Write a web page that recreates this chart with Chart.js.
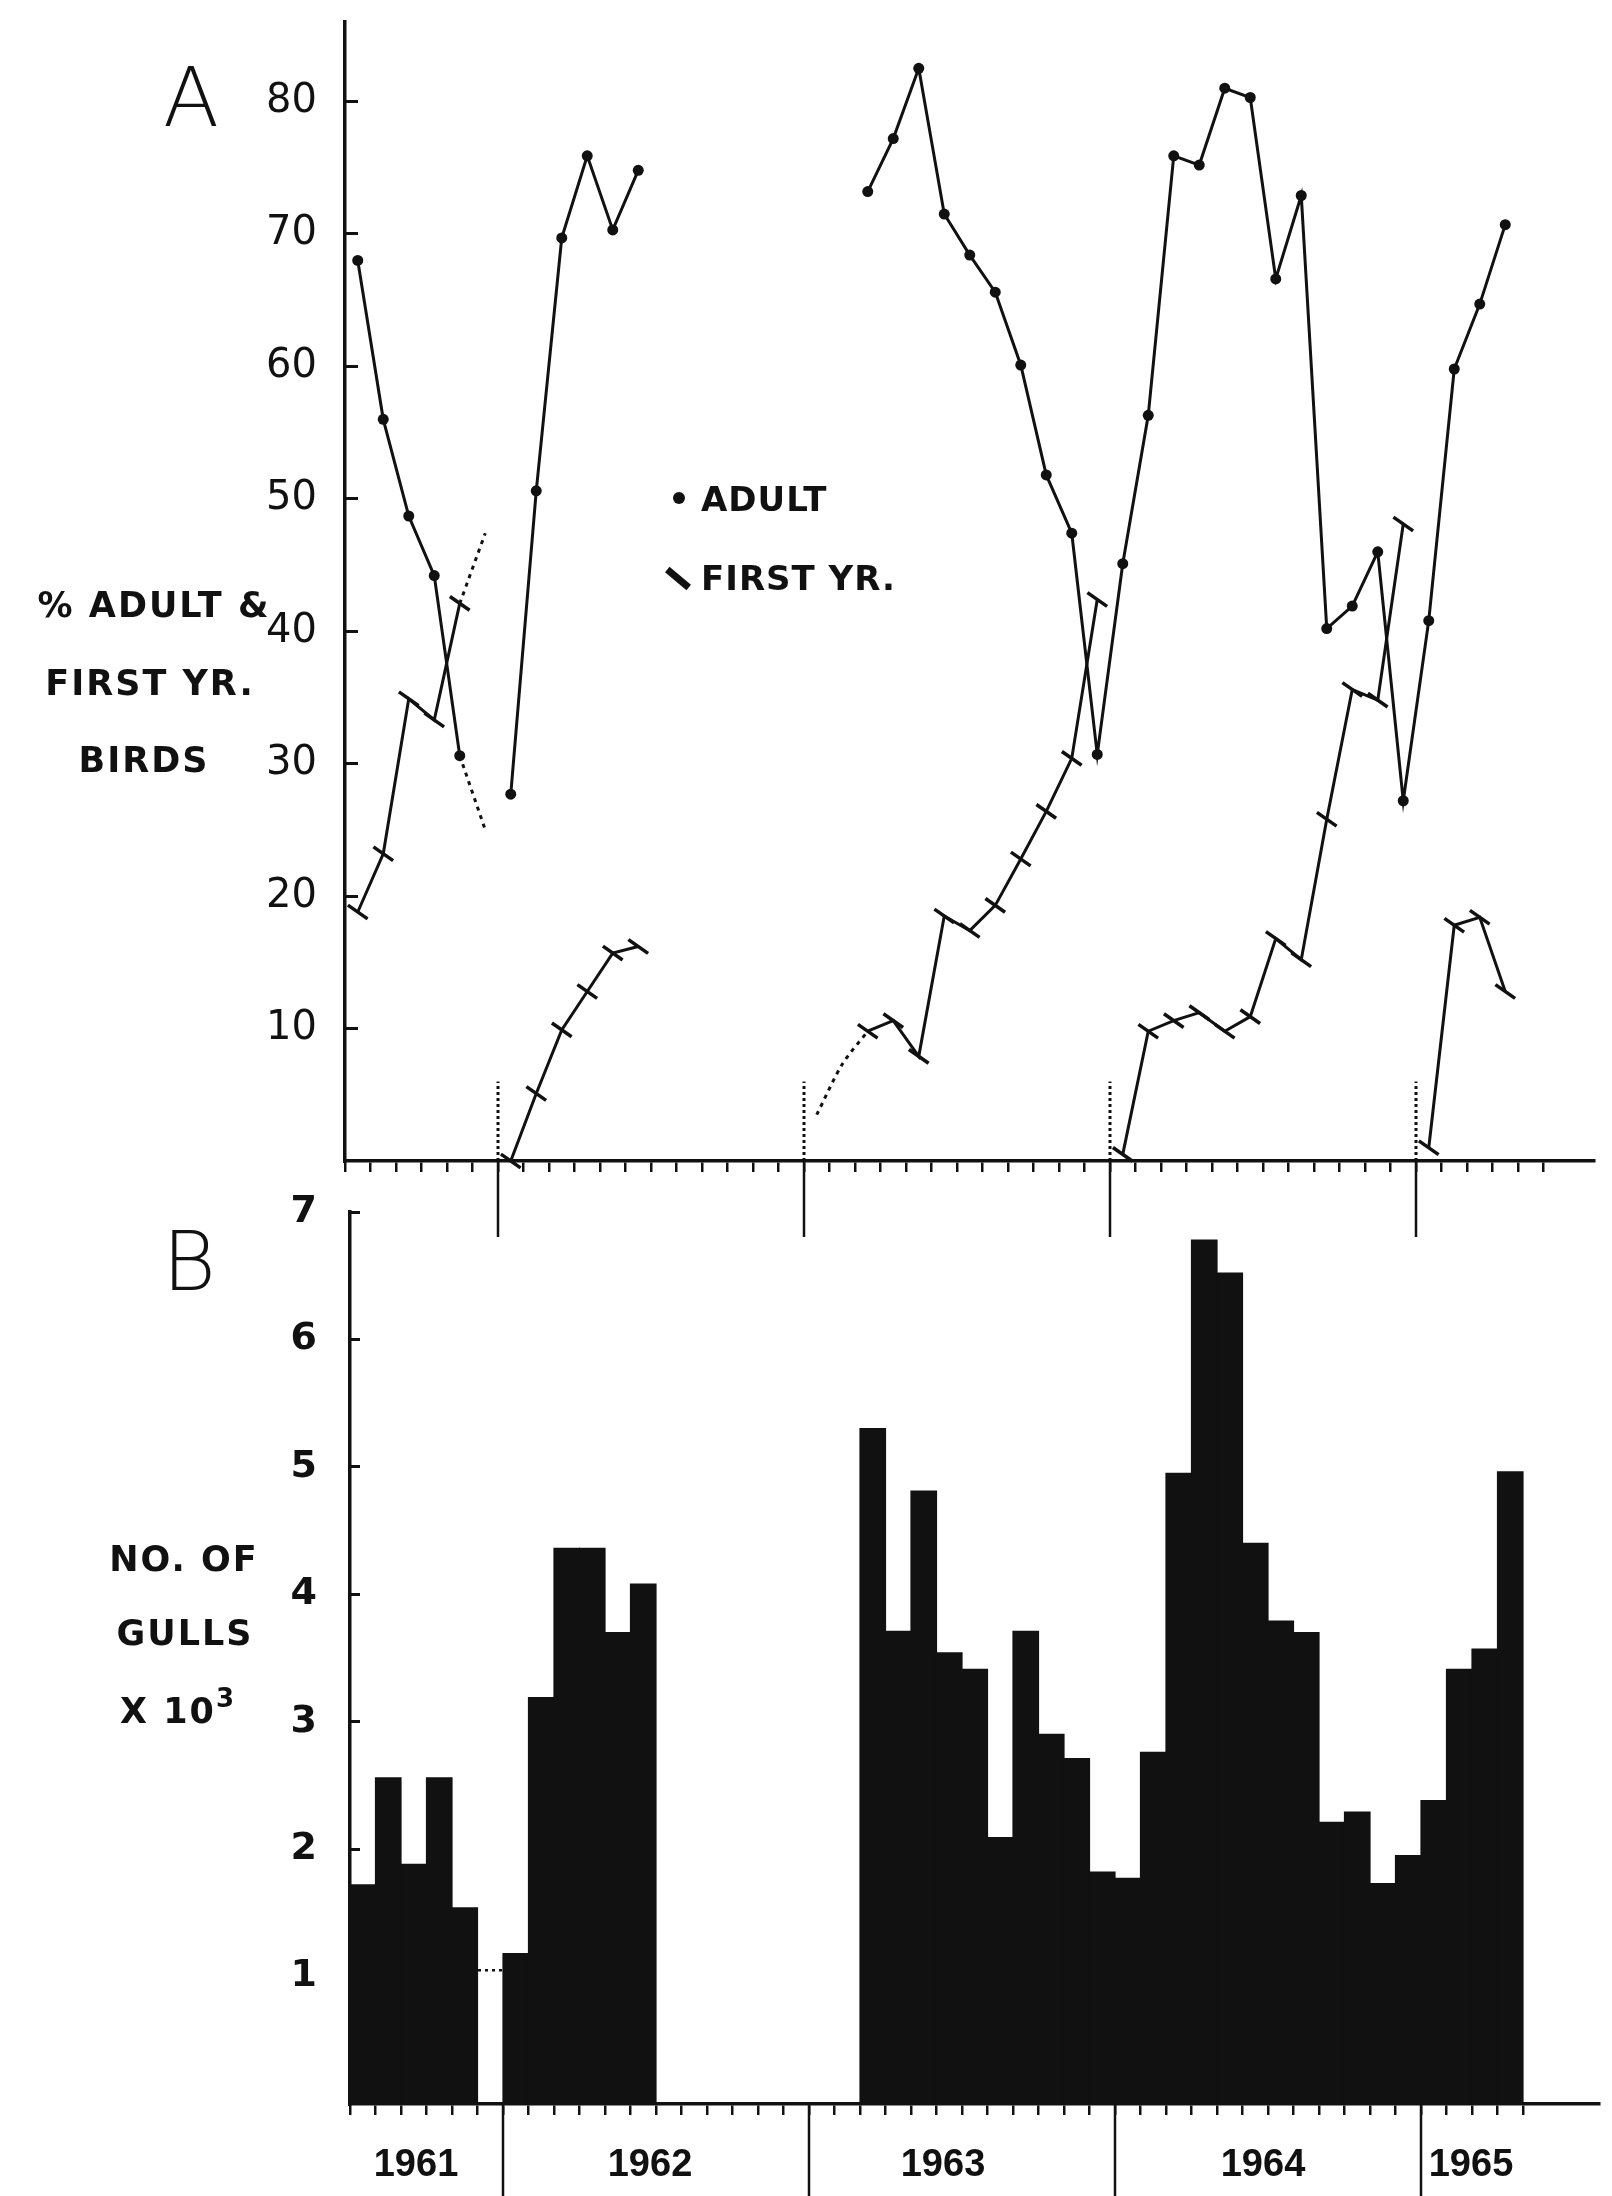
<!DOCTYPE html>
<html>
<head>
<meta charset="utf-8">
<script src="https://cdn.jsdelivr.net/npm/chart.js@4.4.1/dist/chart.umd.min.js"></script>
<style>
  html, body { margin: 0; padding: 0; background: #fff; }
  body { position: relative; width: 1612px; height: 2196px; overflow: hidden;
         font-family: "DejaVu Sans", sans-serif; color: #111; }
  canvas { position: absolute; left: 0; }
  #chartA { top: 0; }
  #chartB { top: 1160px; }
  .lbl { position: absolute; white-space: nowrap; transform: translate(-50%, -50%); line-height: 1; }
  .panel { font-size: 82px; font-weight: 200; }
  .title { font-size: 35px; font-weight: bold; letter-spacing: 2px; }
  .year { font-family: "Liberation Sans", sans-serif; font-weight: bold; font-size: 38px; }
  .leg { font-size: 34px; font-weight: bold; letter-spacing: 1px; transform: translate(0, -50%); }
  .mark { position: absolute; background: #111; }
</style>
</head>
<body>
<canvas id="chartA" width="1612" height="1250"></canvas>
<canvas id="chartB" width="1612" height="1036"></canvas>

<div class="lbl panel" style="left:191px;top:98px">A</div>
<div class="lbl panel" style="left:189px;top:1262px">B</div>

<div class="lbl title" style="left:154px;top:605px">% ADULT &amp;</div>
<div class="lbl title" style="left:150px;top:683px">FIRST YR.</div>
<div class="lbl title" style="left:144px;top:760px">BIRDS</div>

<div class="lbl title" style="left:184px;top:1559px">NO. OF</div>
<div class="lbl title" style="left:185px;top:1633px">GULLS</div>
<div class="lbl title" style="left:178px;top:1711px">X 10<span style="font-size:26px;position:relative;top:-16px">3</span></div>

<!-- легенда -->
<div class="mark" style="left:673px;top:492px;width:12px;height:12px;border-radius:50%"></div>
<div class="lbl leg" style="left:701px;top:499px">ADULT</div>
<div class="mark" style="left:664px;top:575px;width:28px;height:7px;transform:rotate(40deg)"></div>
<div class="lbl leg" style="left:701px;top:578px">FIRST YR.</div>

<div class="lbl year" style="left:416px;top:2163px">1961</div>
<div class="lbl year" style="left:650px;top:2163px">1962</div>
<div class="lbl year" style="left:943px;top:2163px">1963</div>
<div class="lbl year" style="left:1263px;top:2163px">1964</div>
<div class="lbl year" style="left:1471px;top:2163px">1965</div>

<script>
// месяцы от июля 1961 до июля 1965
const monthNames = ['Jan', 'Feb', 'Mar', 'Apr', 'May', 'Jun', 'Jul', 'Aug', 'Sep', 'Oct', 'Nov', 'Dec'];
const months = [];
for (let yr = 1961, m = 6; months.length < 49; m++) {
    if (m === 12) { m = 0; yr++; }
    months.push(monthNames[m] + ' ' + yr);
}
const yearStarts = ['Jan 1962', 'Jan 1963', 'Jan 1964', 'Jan 1965'];

const pctTicks = [10, 20, 30, 40, 50, 60, 70, 80];
const gullTicks = [1, 2, 3, 4, 5, 6, 7];

// A: % взрослых
const adult = [
    68.0, 56.0, 48.7, 44.2, 30.6, null,                                   // 1961 Jul-Dec
    27.7, 50.6, 69.7, 75.9, 70.3, 74.8, null, null, null, null, null, null, // 1962
    null, null, 73.2, 77.2, 82.5, 71.5, 68.4, 65.6, 60.1, 51.8, 47.4, 30.7, // 1963
    45.1, 56.3, 75.9, 75.2, 81.0, 80.3, 66.6, 72.9, 40.2, 41.9, 46.0, 27.2, // 1964
    40.8, 59.8, 64.7, 70.7, null, null, null                              // 1965
];
// A: % птиц первого года
const firstYear = [
    18.8, 23.2, 34.9, 33.3, 42.1, null,
    0.0, 5.1, 9.9, 12.8, 15.7, 16.2, null, null, null, null, null, null,
    null, null, 9.8, 10.6, 7.9, 18.5, 17.4, 19.3, 22.8, 26.4, 30.4, 42.4,
    0.5, 9.8, 10.6, 11.2, 9.8, 10.9, 16.8, 15.2, 25.8, 35.6, 34.8, 48.1,
    1.0, 17.8, 18.4, 12.8, null, null, null
];
// пунктирные (оценочные) участки
const adultDotted = { 'Nov 1961': 30.6, 'Dec 1961': 25.0 };
const firstYearDotted = { 'Nov 1961': 42.1, 'Dec 1961': 47.4, 'Jan 1963': 3.5, 'Feb 1963': 7.3, 'Mar 1963': 9.8 };

// B: число чаек, тысячи
const gulls = [
    1.72, 2.56, 1.88, 2.56, 1.54, null,
    1.18, 3.19, 4.36, 4.36, 3.70, 4.08, null, null, null, null, null, null,
    null, null, 5.30, 3.71, 4.81, 3.54, 3.41, 2.09, 3.71, 2.90, 2.71, 1.82,
    1.77, 2.76, 4.95, 6.78, 6.52, 4.40, 3.79, 3.70, 2.21, 2.29, 1.73, 1.95,
    2.38, 3.41, 3.57, 4.96, null, null, null
];
const gullsDotted = { 'Dec 1961': 1.05 };

const ink = '#111';
const none = 'rgba(0,0,0,0)';

function fromMap(obj) {
    return months.map(m => (m in obj ? obj[m] : null));
}

function boundaryPx(x, i) {
    return Math.round((x.getPixelForValue(i - 1) + x.getPixelForValue(i)) / 2);
}

// вертикальные отметки начала года
function yearMarks(opts) {
    return {
        id: 'yearMarks',
        afterDatasetsDraw(chart) {
            const { ctx, chartArea, scales: { x, y } } = chart;
            ctx.save();
            ctx.strokeStyle = ink;
            yearStarts.forEach(label => {
                const px = boundaryPx(x, months.indexOf(label));
                if (opts.dottedTo) {
                    ctx.setLineDash([3, 3]);
                    ctx.lineWidth = 3;
                    ctx.beginPath();
                    ctx.moveTo(px, y.getPixelForValue(0));
                    ctx.lineTo(px, y.getPixelForValue(opts.dottedTo));
                    ctx.stroke();
                }
                ctx.setLineDash([]);
                ctx.lineWidth = 2.5;
                ctx.beginPath();
                ctx.moveTo(px, chartArea.bottom);
                ctx.lineTo(px, opts.below ? chartArea.bottom + opts.below : chart.height);
                ctx.stroke();
            });
            if (opts.bridge) {
                ctx.setLineDash([3, 4]);
                ctx.lineWidth = 2.5;
                Object.keys(opts.bridge).forEach(label => {
                    const i = months.indexOf(label);
                    const py = y.getPixelForValue(opts.bridge[label]);
                    ctx.beginPath();
                    ctx.moveTo(boundaryPx(x, i), py);
                    ctx.lineTo(boundaryPx(x, i + 1), py);
                    ctx.stroke();
                });
            }
            ctx.restore();
        }
    };
}

function xAxis(height, lastTicked) {
    const last = months.indexOf(lastTicked);
    return {
        type: 'category',
        offset: true,
        grid: {
            offset: true, drawOnChartArea: false, tickLength: 11, lineWidth: 2.5,
            color: ctx => (ctx.index <= last ? ink : none)
        },
        border: { color: ink, width: 3.5 },
        ticks: { display: false, autoSkip: false },
        afterFit: s => { s.height = height; s.paddingLeft = 0; s.paddingRight = 0; }
    };
}

function yAxis(max, tickList, width, tickLen, pad, font) {
    return {
        type: 'linear',
        min: 0,
        max: max,
        afterBuildTicks: s => { s.ticks = tickList.map(v => ({ value: v })); },
        grid: { drawOnChartArea: false, tickLength: tickLen, lineWidth: 3, color: ink },
        border: { color: ink, width: 3.5 },
        ticks: { font: font, color: ink, padding: pad },
        afterFit: s => { s.width = width; s.paddingTop = 0; s.paddingBottom = 0; }
    };
}

const baseOptions = {
    responsive: false,
    animation: false,
    devicePixelRatio: 1,
    plugins: { legend: { display: false }, tooltip: { enabled: false } }
};

new Chart(document.getElementById('chartA'), {
    type: 'line',
    data: {
        labels: months,
        datasets: [
            {
                label: 'ADULT', data: adult, borderColor: ink, borderWidth: 3,
                pointStyle: 'circle', pointRadius: 5.5, pointBackgroundColor: ink, pointBorderWidth: 0,
                spanGaps: false, clip: false
            },
            {
                label: 'ADULT est.', data: fromMap(adultDotted), borderColor: ink, borderWidth: 3,
                borderDash: [4, 5], pointRadius: 0, clip: false
            },
            {
                label: 'FIRST YR.', data: firstYear, borderColor: ink, borderWidth: 3,
                pointStyle: 'line', pointRotation: 35, pointRadius: 12, pointBorderWidth: 3.5,
                pointBorderColor: ink, spanGaps: false, clip: false,
                // новый выводок каждый январь: линию не соединяем
                segment: { borderColor: ctx => (months[ctx.p1DataIndex].startsWith('Jan') ? none : ink) }
            },
            {
                label: 'FIRST YR. est.', data: fromMap(firstYearDotted), borderColor: ink, borderWidth: 3,
                borderDash: [4, 5], pointRadius: 0, tension: 0.3, clip: false
            }
        ]
    },
    options: {
        ...baseOptions,
        layout: { padding: { left: 0, top: 22, right: 17.5, bottom: 0 } },
        scales: {
            x: xAxis(89, 'Jun 1965'),
            y: yAxis(86, pctTicks, 345, -13, 41, { family: '"DejaVu Sans", sans-serif', size: 40 })
        }
    },
    plugins: [yearMarks({ dottedTo: 6, below: 76 })]
});

new Chart(document.getElementById('chartB'), {
    type: 'bar',
    data: {
        labels: months,
        datasets: [{
            label: 'NO. OF GULLS X 10³', data: gulls, backgroundColor: ink,
            borderWidth: 0, barPercentage: 1, categoryPercentage: 1, inflateAmount: 0.6
        }]
    },
    options: {
        ...baseOptions,
        layout: { padding: { left: 0, top: 52, right: 12.5, bottom: 0 } },
        scales: {
            x: xAxis(92, 'May 1965'),
            y: yAxis(7, gullTicks, 350, -10, 43, { family: '"DejaVu Sans", sans-serif', size: 38, weight: 'bold' })
        }
    },
    plugins: [yearMarks({ bridge: gullsDotted })]
});
</script>
</body>
</html>
